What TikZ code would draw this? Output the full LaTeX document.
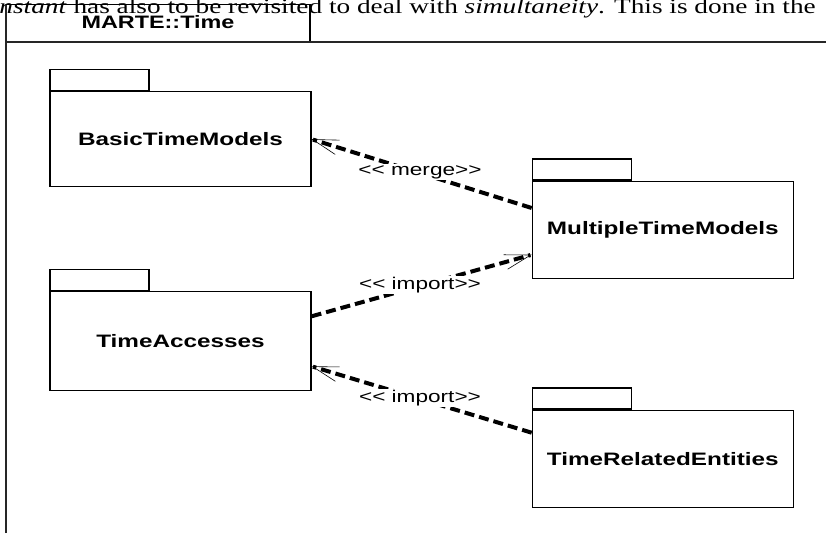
\documentclass[tikz,border=0pt]{standalone}
\usepackage{fontspec}
\setmainfont[FakeStretch=1.3]{Liberation Serif}
\newfontfamily\titlefont[FakeStretch=1.3]{Liberation Sans}
\newfontfamily\pkgfont[FakeStretch=1.35]{Liberation Sans}
\newfontfamily\lblfont[FakeStretch=1.33]{Liberation Sans}
\usetikzlibrary{arrows.meta,calc}
\tikzset{
  frameline/.style={line width=1.6pt, draw=black!85},
  pkg/.style={draw, line width=1.2pt, minimum width=261pt, inner sep=0pt,
    font=\pkgfont\bfseries\fontsize{18}{20}\selectfont},
  pkgtab/.style={draw, line width=1.2pt, minimum width=99pt, minimum height=21pt,
    inner sep=0pt, anchor=south west},
  dep/.style={line width=4pt, dash pattern=on 10pt off 5pt,
    -{Straight Barb[length=26pt,width=15pt,line width'=0.6pt]}},
  deplabel/.style={fill=white, inner sep=1pt, font=\lblfont\fontsize{17}{19}\selectfont}
}
\begin{document}
\begin{tikzpicture}[x=1pt,y=-1pt]
\useasboundingbox (0,0) rectangle (826,533);
\clip (0,0) rectangle (826,533);
% page text above the figure
\node[anchor=base east, inner sep=0pt, font=\fontsize{21}{24}\selectfont] (para) at (816,13.5)
  {\textit{instant} has also to be revisited to deal with \textit{simultaneity}. This is done in the};
% frame
\draw[frameline] (6,533) -- (6,4);
\draw[line width=0.8pt] (6,4) -- (310,4);
\draw[line width=1.2pt] (310,4) -- (310,42);
\draw[frameline] (6,42) -- (826,42);
\node[anchor=base, inner sep=0pt, font=\titlefont\bfseries\fontsize{18}{20}\selectfont] (ftitle) at (158,28.3) {MARTE::Time};
% packages
\node[pkg, minimum height=95pt] (btm) at (180.5,139.2) {BasicTimeModels};
\node[pkgtab] (btmtab) at (btm.north west) {};
\node[pkg, minimum height=99pt] (ta) at (180.5,341.3) {TimeAccesses};
\node[pkgtab] (tatab) at (ta.north west) {};
\node[pkg, minimum height=97pt] (mtm) at (662.8,229.7) {MultipleTimeModels};
\node[pkgtab] (mtmtab) at (mtm.north west) {};
\node[pkg, minimum height=97pt] (tre) at (662.8,458.7) {TimeRelatedEntities};
\node[pkgtab] (tretab) at (tre.north west) {};
% dependencies
\draw[dep] ([yshift=21.7pt]mtm.west) -- (btm.east);
\draw[dep] ([yshift=25pt]ta.east) -- ([yshift=-25pt]mtm.west);
\draw[dep] ([yshift=26pt]tre.west) -- ([yshift=-25pt]ta.east);
\node[deplabel] (l1) at (420,172) {<\kern0pt< merge>\kern0pt>};
\node[deplabel] (l2) at (420,285) {<\kern0pt< import>\kern0pt>};
\node[deplabel] (l3) at (420,398) {<\kern0pt< import>\kern0pt>};
\end{tikzpicture}
\end{document}
